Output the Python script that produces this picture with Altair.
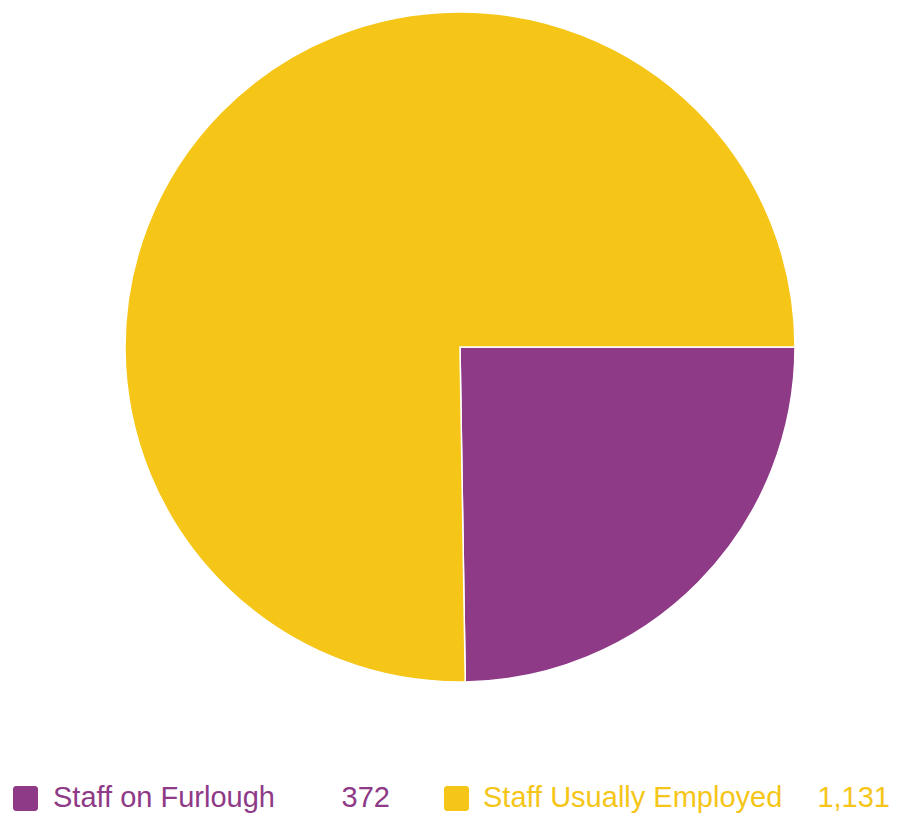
import math
import altair as alt
import pandas as pd

categories = ["Staff on Furlough", "Staff Usually Employed"]
values = [372, 1131]
value_labels = ["372", "1,131"]
colors = ["#8E3A87", "#F5C518"]

df = pd.DataFrame({
    "category": categories,
    "value": values,
    "label": value_labels,
    "order": list(range(len(categories))),
})

color_scale = alt.Scale(domain=categories, range=colors)

pie = alt.Chart(df).mark_arc(radius=335, stroke="white", strokeWidth=1.5).encode(
    theta=alt.Theta("value:Q", stack=True,
                    scale=alt.Scale(range=[math.pi / 2, math.pi / 2 + 2 * math.pi])),
    color=alt.Color("category:N", scale=color_scale, legend=None),
    order=alt.Order("order:Q"),
    x=alt.value(452),
    y=alt.value(339),
)

layers = [pie]
# (square left, label left, value right)
legend_pos = [(5, 45, 382), (436, 475, 882)]
for cat, (sx, tx, vx) in zip(categories, legend_pos):
    sub = alt.Chart(df).transform_filter(alt.datum.category == cat)
    layers.append(sub.mark_rect(cornerRadius=3).encode(
        x=alt.value(sx), x2=alt.value(sx + 25),
        y=alt.value(778), y2=alt.value(803),
        color=alt.Color("category:N", scale=color_scale, legend=None),
    ))
    layers.append(sub.mark_text(align="left", baseline="alphabetic", font="Liberation Sans",
                                fontSize=29).encode(
        x=alt.value(tx), y=alt.value(799), text="category:N",
        color=alt.Color("category:N", scale=color_scale, legend=None),
    ))
    layers.append(sub.mark_text(align="right", baseline="alphabetic", font="Liberation Sans",
                                fontSize=29).encode(
        x=alt.value(vx), y=alt.value(799), text="label:N",
        color=alt.Color("category:N", scale=color_scale, legend=None),
    ))

chart = alt.layer(*layers).properties(
    width=883, height=806, padding=0,
    autosize=alt.AutoSizeParams(type="fit", contains="padding"),
).configure_view(stroke=None)

chart.save("out.html", embed_options={"renderer": "svg", "actions": False})
